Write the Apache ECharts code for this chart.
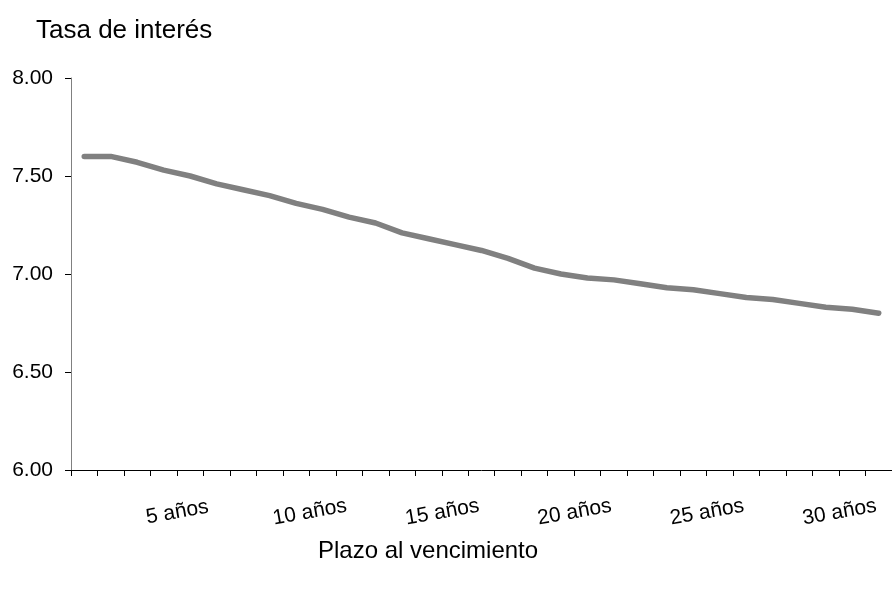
<!DOCTYPE html>
<html>
<head>
<meta charset="utf-8">
<script src="https://cdn.jsdelivr.net/npm/echarts@6/dist/echarts.min.js"></script>
<style>
html,body{margin:0;padding:0;background:#fff;}
#chart{width:892px;height:590px;}
</style>
</head>
<body>
<div id="chart"></div>
<script>
var categories = ['', '', '', '', '5 años', '', '', '', '', '10 años', '', '', '', '', '15 años', '', '', '', '', '20 años', '', '', '', '', '25 años', '', '', '', '', '30 años', ''];
var rates = [7.60, 7.60, 7.57, 7.53, 7.50, 7.46, 7.43, 7.40, 7.36, 7.33, 7.29, 7.26, 7.21, 7.18, 7.15, 7.12, 7.08, 7.03, 7.00, 6.98, 6.97, 6.95, 6.93, 6.92, 6.90, 6.88, 6.87, 6.85, 6.83, 6.82, 6.80];
var yTicks = [6.00, 6.50, 7.00, 7.50, 8.00];
var yTitle = 'Tasa de interés';
var xTitle = 'Plazo al vencimiento';

var FONT = '"Liberation Sans", Arial, sans-serif';
var chart = echarts.init(document.getElementById('chart'));
chart.setOption({
  animation: false,
  backgroundColor: '#ffffff',
  title: [
    { text: yTitle, left: 36, top: 18, padding: 0, textStyle: { fontFamily: FONT, fontSize: 26, fontWeight: 'normal', color: '#000' } },
    { text: xTitle, left: 318, top: 539, padding: 0, textStyle: { fontFamily: FONT, fontSize: 24, fontWeight: 'normal', color: '#000' } }
  ],
  grid: { left: 71, top: 78, bottom: 120, right: -7, containLabel: false },
  xAxis: {
    type: 'category',
    data: categories,
    boundaryGap: true,
    axisLine: { show: true, lineStyle: { color: '#000', width: 1 } },
    axisTick: { show: true, interval: 0, length: 6, inside: false, lineStyle: { color: '#000' } },
    axisLabel: {
      interval: 0,
      rotate: 10,
      align: 'center',
      verticalAlign: 'middle',
      margin: 40,
      padding: [0, 26, 0, 0],
      fontFamily: FONT,
      fontSize: 21,
      color: '#000'
    },
    splitLine: { show: false }
  },
  yAxis: {
    type: 'value',
    min: yTicks[0],
    max: yTicks[yTicks.length - 1],
    interval: 0.5,
    axisLine: { show: true, lineStyle: { color: '#808080', width: 1 } },
    axisTick: { show: true, length: 6, inside: false, lineStyle: { color: '#000' } },
    axisLabel: {
      margin: 18,
      fontFamily: FONT,
      fontSize: 21,
      color: '#000',
      formatter: function (v) { return v.toFixed(2); }
    },
    splitLine: { show: false }
  },
  series: [{
    type: 'line',
    data: rates,
    symbol: 'none',
    smooth: false,
    lineStyle: { color: '#808080', width: 5.5, cap: 'round', join: 'round' }
  }]
});
</script>
</body>
</html>
